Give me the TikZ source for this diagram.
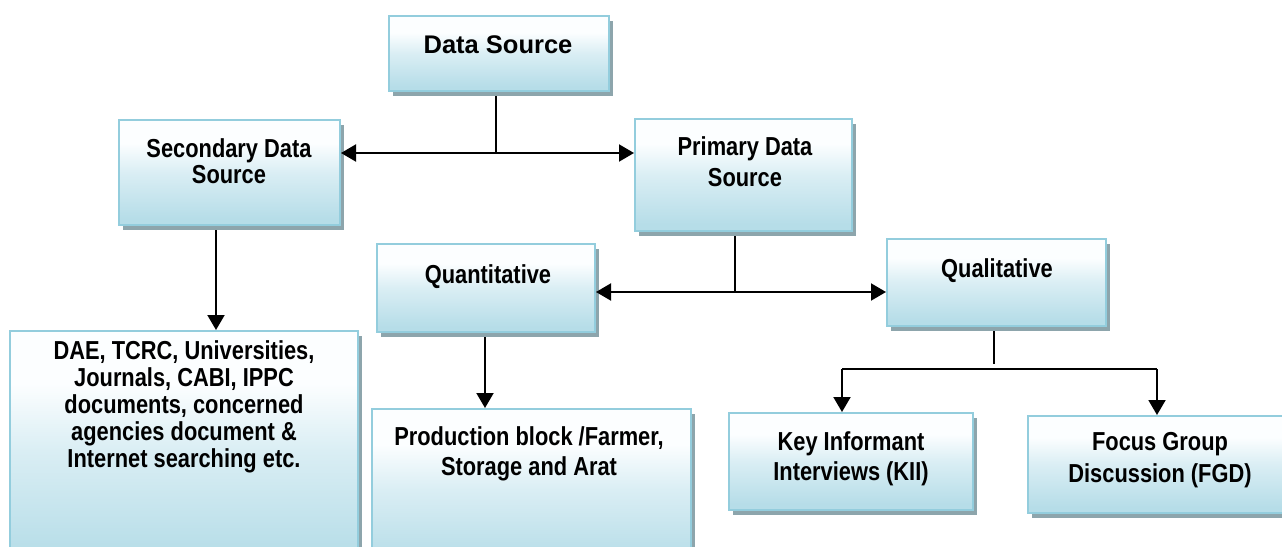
\documentclass[tikz,border=0pt]{standalone}
\usepackage{fontspec}
\setmainfont{Liberation Sans}
\newfontfamily\narr[FakeStretch=0.84]{Liberation Sans}
\usetikzlibrary{arrows.meta,shadows}
\definecolor{boxline}{RGB}{147,205,221}
\definecolor{boxbot}{RGB}{182,221,232}
\definecolor{boxmid}{RGB}{218,238,244}
\definecolor{boxtop}{RGB}{252,254,255}
\definecolor{shadowc}{RGB}{141,165,172}
\pgfdeclareverticalshading{boxshade}{100bp}{color(0bp)=(boxbot); color(28bp)=(boxbot); color(50bp)=(boxmid); color(64bp)=(boxtop); color(75bp)=(boxtop); color(100bp)=(boxtop)}
\pgfdeclarelayer{bg}
\pgfsetlayers{bg,main}
\tikzset{
  box/.style={draw=boxline, line width=2pt, shading=boxshade, inner sep=0pt,
    drop shadow={shadow xshift=4pt, shadow yshift=-5pt, fill=shadowc, opacity=1}},
  lbl/.style={font=\narr\bfseries\fontsize{26}{#1}\selectfont, align=center, anchor=base, inner sep=0pt},
  ln/.style={line width=2pt, black},
  arr/.style={ln, -{Triangle[width=17pt,length=15pt]}},
  dbl/.style={ln, {Triangle[width=17pt,length=15pt]}-{Triangle[width=17pt,length=15pt]}}
}
\begin{document}
\begin{tikzpicture}[x=1pt,y=-1pt]
\useasboundingbox (0,0) rectangle (1282,546);
% boxes
\node[box, minimum width=220pt, minimum height=75pt] (ds) at (499,53.5) {};
\node[box, minimum width=221pt, minimum height=105pt] (sec) at (229.5,172.5) {};
\node[box, minimum width=217pt, minimum height=112pt] (pri) at (743.5,175) {};
\node[box, minimum width=218pt, minimum height=88pt] (quant) at (486,288) {};
\node[box, minimum width=219pt, minimum height=87pt] (qual) at (996.5,282.5) {};
\node[box, minimum width=348pt, minimum height=239pt] (dae) at (184,450.5) {};
\node[box, minimum width=319pt, minimum height=161pt] (prod) at (531.5,489.5) {};
\node[box, minimum width=244pt, minimum height=97pt] (kii) at (851,461.5) {};
\node[box, minimum width=272pt, minimum height=97pt] (fgd) at (1164,464.5) {};
% texts (anchor = baseline of the last line)
\node[font=\bfseries\fontsize{25.5}{30}\selectfont, anchor=base, inner sep=0pt] (tds) at (498,53) {Data Source};
\node[lbl=26.5] (tsec) at (229,183.5) {Secondary Data\\Source};
\node[lbl=31] (tpri) at (745,186) {Primary Data\\Source};
\node[lbl=30] (tquant) at (488,283) {Quantitative};
\node[lbl=30] (tqual) at (997,277) {Qualitative};
\node[lbl=27] (tdae) at (184,467) {DAE, TCRC, Universities,\\Journals, CABI, IPPC\\documents, concerned\\agencies document \&\\Internet searching etc.};
\node[lbl=30] (tprod) at (529,475) {Production block /Farmer,\\Storage and Arat};
\node[lbl=30] (tkii) at (851,480) {Key Informant\\Interviews (KII)};
\node[lbl=32] (tfgd) at (1160,482) {Focus Group\\Discussion (FGD)};
% junctions
\coordinate (j1) at (496,153);
\coordinate (j2) at (735,292);
\coordinate (j3) at (994,364);
\coordinate (kl) at (842,369);
\coordinate (fr) at (1157,369);
\coordinate (sx) at (216,0);
\coordinate (qx) at (485,0);
% connectors
\begin{pgfonlayer}{bg}
\draw[ln] (ds.south -| j1) -- (j1);
\draw[ln] (pri.south -| j2) -- (j2);
\draw[ln] (qual.south -| j3) -- (j3);
\draw[arr] (sec.south -| sx) -- (dae.north -| sx);
\draw[arr] (quant.south -| qx) -- (prod.north -| qx);
\end{pgfonlayer}
\draw[dbl] (sec.east |- j1) -- (pri.west |- j1);
\draw[dbl] (quant.east |- j2) -- (qual.west |- j2);
\draw[ln] (kl) -- (fr);
\draw[arr] (kl) -- (kii.north -| kl);
\draw[arr] (fr) -- (fgd.north -| fr);
\end{tikzpicture}
\end{document}
